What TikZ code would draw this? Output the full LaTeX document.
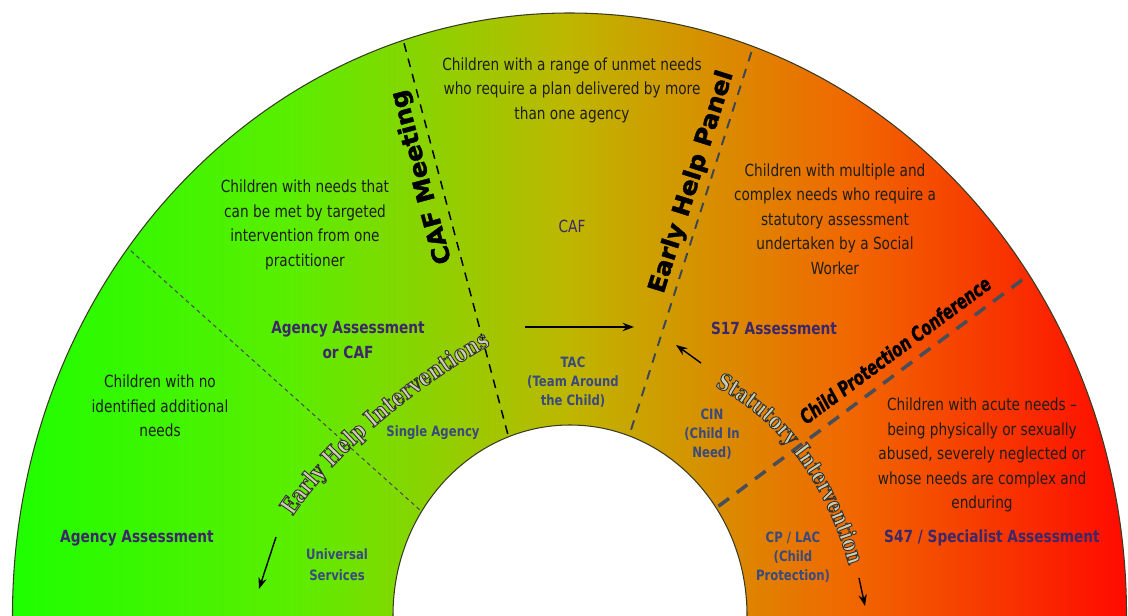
\documentclass[tikz,border=0pt]{standalone}
\usepackage{fontspec}
\setmainfont{DejaVu Sans}[FakeStretch=0.82]
\newfontfamily\heavyfont{DejaVu Sans}[FakeStretch=1.05, FakeBold=1.6]
\newfontfamily\cpcfam{DejaVu Sans}[FakeStretch=0.72, FakeBold=1.2]
\newfontfamily\curvefont{DejaVu Serif}[FakeStretch=0.8]
\usetikzlibrary{arrows.meta,decorations.text}
\definecolor{gA}{HTML}{1EFF00}
\definecolor{gB}{HTML}{5AEE00}
\definecolor{gC}{HTML}{BEB600}
\definecolor{gD}{HTML}{F06800}
\definecolor{gE}{HTML}{FF0A00}
\definecolor{parac}{HTML}{1F1E16}
\definecolor{purplec}{HTML}{3C2868}
\definecolor{bluec}{HTML}{3A4A7C}
\definecolor{edgec}{HTML}{3A3A22}
\definecolor{slatec}{HTML}{3A4656}
\definecolor{cpcc}{HTML}{474E58}
\pgfdeclarehorizontalshading{needs}{100bp}{color(0bp)=(gA); color(25bp)=(gA); color(37.5bp)=(gB); color(50bp)=(gC); color(62.5bp)=(gD); color(75bp)=(gE); color(100bp)=(gE)}
\newcommand\outltext{\special{pdf:literal direct 0.80 0.80 0.70 rg 0.20 0.20 0.18 RG 2 Tr 0.5 w}}
\begin{document}
\begin{tikzpicture}[x=0.02cm, y=-0.02cm,
  para/.style={text=parac, font=\fontsize{9.5}{13.9}\selectfont, align=center, inner sep=0pt},
  purp/.style={text=purplec, font=\fontsize{9.5}{14.2}\selectfont\bfseries, align=center, inner sep=0pt},
  blu/.style={text=bluec, font=\fontsize{8.1}{10.8}\selectfont\bfseries, align=center, inner sep=0pt},
  heavy/.style={text=black, font=\heavyfont\bfseries\fontsize{13.6}{13.6}\selectfont, inner sep=0pt},
  cpcfont/.style={text=black, font=\cpcfam\bfseries\itshape\fontsize{11.6}{11.6}\selectfont, inner sep=0pt},
  arr/.style={draw=black, line width=0.8pt, -{Stealth[length=6.5pt,width=4.8pt]}},
  edge/.style={draw=edgec, line width=0.6pt},
  curvetext/.style={decorate, decoration={text along path, text align=center, text={#1}}}
]
\useasboundingbox (0,0) rectangle (1128,615);

\begin{scope}
  \clip (0,0) rectangle (1128,615);
  \shade[shading=needs] (569.5,615) ellipse [x radius=557, y radius=602];
  \begin{scope}
    \clip (569.5,615) ellipse [x radius=557, y radius=602];
    % dividers
    \coordinate (f1) at (120,241);  \coordinate (f2) at (440,528);
    \coordinate (c1) at (400,28);   \coordinate (c2) at (518.5,474.5);
    \coordinate (e1) at (756.7,35.4); \coordinate (e2) at (617.7,471.6);
    \coordinate (p1) at (1022,280); \coordinate (p2) at (700,520);
    \draw[draw=black!70, line width=0.6pt, dash pattern=on 2.2pt off 2pt] (f1) -- (f2);
    \draw[draw=black, line width=0.85pt, dash pattern=on 5pt off 4pt] (c1) -- (c2);
    \draw[draw=slatec, line width=1.1pt, dash pattern=on 5.5pt off 4.5pt] (e1) -- (e2);
    \draw[draw=cpcc, line width=2pt, dash pattern=on 7.5pt off 5.5pt] (p1) -- (p2);
  \end{scope}
  \fill[white] (570,615) ellipse [x radius=177, y radius=190];
  \draw[edge] (570,615) ellipse [x radius=177, y radius=190];
  \draw[edge] (569.5,615) ellipse [x radius=557, y radius=602];
\end{scope}

% descriptions
\node[para] (d1) at (305,225) {Children with needs that\\can be met by targeted\\intervention from one\\practitioner};
\node[para] (d2) at (572,90) {Children with a range of unmet needs\\who require a plan delivered by more\\than one agency};
\node[para] (d3) at (835,219) {Children with multiple and\\complex needs who require a\\statutory assessment\\undertaken by a Social\\Worker};
\node[para] (d4) at (160,406) {Children with no\\identified additional\\needs};
\node[para] (d5) at (982,455) {Children with acute needs \textendash\\being physically or sexually\\abused, severely neglected or\\whose needs are complex and\\enduring};

% assessments
\node[purp] (s1) at (137,538) {Agency Assessment};
\node[purp] (s2) at (348,340) {Agency Assessment\\or CAF};
\node[para, text=purplec] (s3) at (572,226) {CAF};
\node[purp] (s4) at (774,328) {S17 Assessment};
\node[purp] (s5) at (992,538) {S47 / Specialist Assessment};

% services
\node[blu, font=\fontsize{8.1}{11.9}\selectfont\bfseries] (v1) at (337,565) {Universal\\Services};
\node[blu] (v2) at (433,433) {Single Agency};
\node[blu] (v3) at (573,382) {TAC\\(Team Around\\the Child)};
\node[blu] (v4) at (712,434) {CIN\\(Child In\\Need)};
\node[blu] (v5) at (793,557) {CP / LAC\\(Child\\Protection)};

% thresholds
\node[heavy, rotate=105] (t1) at (422,177) {CAF Meeting};
\node[heavy, rotate=72.5] (t2) at (692,182) {Early Help Panel};
\node[cpcfont, rotate=36.5] (t3) at (895,350) {Child Protection Conference};

% curved labels
\coordinate (eh1) at (283,532); \coordinate (eh2) at (323,460);
\coordinate (eh3) at (425,378); \coordinate (eh4) at (507,336);
\path[curvetext={|\curvefont\bfseries\fontsize{13.6}{13.6}\selectfont\outltext|Early Help Interventions}]
  (eh1) .. controls (eh2) and (eh3) .. (eh4);
\coordinate (si1) at (704,381); \coordinate (si2) at (776,414);
\coordinate (si3) at (827,480); \coordinate (si4) at (852,577);
\path[curvetext={|\curvefont\bfseries\fontsize{13}{13}\selectfont\outltext|Statutory Intervention}]
  (si1) .. controls (si2) and (si3) .. (si4);

% arrows
\coordinate (a1s) at (276,537); \coordinate (a1e) at (259,589);
\coordinate (a2s) at (525,327); \coordinate (a2e) at (634,327);
\coordinate (a3s) at (701,363); \coordinate (a3e) at (676,345);
\coordinate (a4s) at (859,578); \coordinate (a4e) at (865,606);
\draw[arr] (a1s) -- (a1e);
\draw[arr] (a2s) -- (a2e);
\draw[arr] (a3s) -- (a3e);
\draw[arr] (a4s) -- (a4e);
\end{tikzpicture}
\end{document}
